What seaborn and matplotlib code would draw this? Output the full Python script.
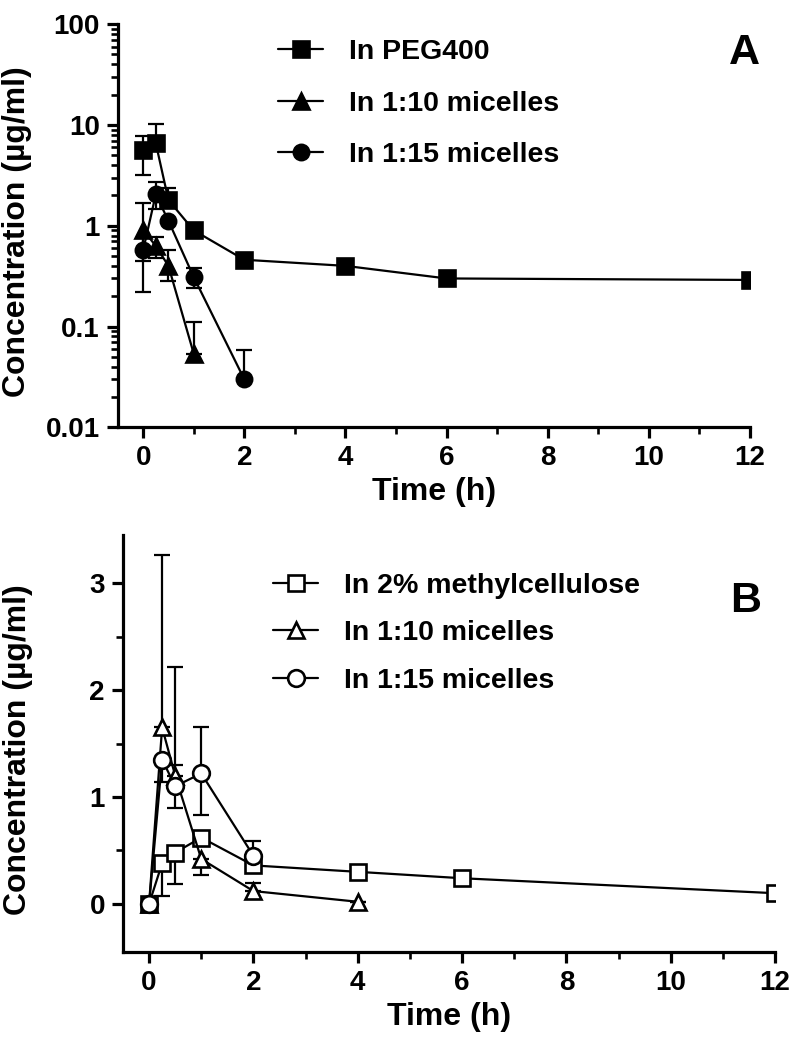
import numpy as np
import matplotlib
matplotlib.use("Agg")
import matplotlib.pyplot as plt
from matplotlib.ticker import LogLocator, MultipleLocator, FixedLocator, NullFormatter
import seaborn as sns

sns.set_theme(style="ticks")
plt.rcParams["font.family"] = ["Liberation Sans", "DejaVu Sans"]
plt.rcParams["font.weight"] = "bold"
plt.rcParams["axes.labelweight"] = "bold"
plt.rcParams["text.color"] = "black"
plt.rcParams["axes.labelcolor"] = "black"
plt.rcParams["xtick.color"] = "black"
plt.rcParams["ytick.color"] = "black"
plt.rcParams["axes.edgecolor"] = "black"

# ── Panel A data (log scale) ────────────────────────────────────────────────
t_peg   = [0, 0.25, 0.5, 1, 2, 4, 6, 12]
c_peg   = [5.6, 6.6, 1.8, 0.9, 0.46, 0.4, 0.3, 0.29]
lo_peg  = [3.2, 6.6, 1.8, 0.9, 0.40, 0.35, 0.26, 0.29]
hi_peg  = [7.8, 10.2, 2.35, 0.9, 0.52, 0.45, 0.34, 0.29]

t_a10   = [0, 0.25, 0.5, 1]
c_a10   = [0.91, 0.63, 0.40, 0.054]
lo_a10  = [0.45, 0.48, 0.28, 0.054]
hi_a10  = [1.7, 0.78, 0.57, 0.11]

t_a15   = [0, 0.25, 0.5, 1, 2]
c_a15   = [0.57, 2.05, 1.12, 0.31, 0.030]
lo_a15  = [0.22, 1.45, 1.12, 0.24, 0.030]
hi_a15  = [0.75, 2.7, 1.12, 0.38, 0.058]

# ── Panel B data (linear scale) ─────────────────────────────────────────────
t_mc    = [0, 0.25, 0.5, 1, 2, 4, 6, 12]
c_mc    = [0, 0.38, 0.48, 0.62, 0.36, 0.30, 0.24, 0.10]
lo_mc   = [0, 0.07, 0.19, 0.62, 0.36, 0.30, 0.24, 0.10]
hi_mc   = [0, 0.38, 0.48, 0.62, 0.36, 0.30, 0.24, 0.10]

t_b10   = [0, 0.25, 0.5, 1, 2, 4]
c_b10   = [0, 1.65, 1.20, 0.42, 0.12, 0.02]
lo_b10  = [0, 1.65, 1.20, 0.27, 0.12, 0.02]
hi_b10  = [0, 3.26, 2.22, 0.42, 0.20, 0.02]

t_b15   = [0, 0.25, 0.5, 1, 2]
c_b15   = [0, 1.35, 1.10, 1.22, 0.45]
lo_b15  = [0, 1.14, 0.90, 0.83, 0.45]
hi_b15  = [0, 1.35, 1.30, 1.65, 0.59]

LW = 1.6
SPINE = 2.3


def draw(ax, t, c, lo, hi, marker, label, filled, ms):
    c, lo, hi = np.array(c), np.array(lo), np.array(hi)
    ax.errorbar(t, c, yerr=[c - lo, hi - c], fmt="none", ecolor="black",
                elinewidth=LW, capsize=6, capthick=LW, zorder=2)
    sns.lineplot(x=t, y=c, ax=ax, color="black", lw=LW, marker=marker,
                 markersize=ms, markeredgewidth=LW + 0.3,
                 markeredgecolor="black",
                 markerfacecolor="black" if filled else "white",
                 label=label, zorder=3, errorbar=None)


def style(ax, ylab_xy):
    sns.despine(ax=ax)
    for s in ["left", "bottom"]:
        ax.spines[s].set_linewidth(SPINE)
    ax.tick_params(which="major", length=8, width=SPINE, labelsize=20,
                   color="black", labelcolor="black", pad=5)
    ax.tick_params(which="minor", length=5, width=SPINE - 0.4, color="black")
    ax.set_xlim(-0.5, 12)
    ax.xaxis.set_major_locator(MultipleLocator(2))
    ax.xaxis.set_minor_locator(MultipleLocator(1))
    for lab in ax.get_xticklabels() + ax.get_yticklabels():
        lab.set_fontweight("bold")
    ax.set_xlabel("Time (h)", fontsize=23, fontweight="bold", labelpad=4)
    ax.set_ylabel("Concentration (µg/ml)", fontsize=23, fontweight="bold")
    ax.yaxis.set_label_coords(*ylab_xy)


fig = plt.figure(figsize=(7.91, 10.5), dpi=100)
axA = fig.add_axes([0.149, 0.593, 0.799, 0.384])
axB = fig.add_axes([0.1555, 0.0933, 0.8245, 0.3972])

# Panel A
draw(axA, t_peg, c_peg, lo_peg, hi_peg, "s", "In PEG400", True, 11)
draw(axA, t_a10, c_a10, lo_a10, hi_a10, "^", "In 1:10 micelles", True, 11)
draw(axA, t_a15, c_a15, lo_a15, hi_a15, "o", "In 1:15 micelles", True, 11)
axA.set_yscale("log")
axA.set_ylim(0.01, 100)
axA.yaxis.set_major_locator(FixedLocator([0.01, 0.1, 1, 10, 100]))
axA.set_yticklabels(["0.01", "0.1", "1", "10", "100"])
axA.yaxis.set_minor_locator(LogLocator(base=10, subs=np.arange(2, 10)))
axA.yaxis.set_minor_formatter(NullFormatter())
style(axA, (-0.136, 0.485))
axA.legend(loc="upper left", bbox_to_anchor=(0.253, 0.963), frameon=False,
           prop={"weight": "bold", "size": 20.5},
           handlelength=1.6, handletextpad=0.9, labelspacing=0.9,
           borderpad=0, borderaxespad=0)
axA.text(0.992, 0.928, "A", transform=axA.transAxes, fontsize=31,
         fontweight="bold", ha="center", va="center")

# Panel B
draw(axB, t_mc, c_mc, lo_mc, hi_mc, "s", "In 2% methylcellulose", False, 12)
draw(axB, t_b10, c_b10, lo_b10, hi_b10, "^", "In 1:10 micelles", False, 12)
draw(axB, t_b15, c_b15, lo_b15, hi_b15, "o", "In 1:15 micelles", False, 12)
axB.set_ylim(-0.45, 3.45)
axB.yaxis.set_major_locator(MultipleLocator(1))
axB.yaxis.set_minor_locator(MultipleLocator(0.5))
style(axB, (-0.138, 0.486))
axB.legend(loc="upper left", bbox_to_anchor=(0.2296, 0.91), frameon=False,
           prop={"weight": "bold", "size": 20.5},
           handlelength=1.6, handletextpad=0.9, labelspacing=0.76,
           borderpad=0, borderaxespad=0)
axB.text(0.954, 0.842, "B", transform=axB.transAxes, fontsize=31,
         fontweight="bold", ha="center", va="center")

fig.savefig("out.png", dpi=100)
